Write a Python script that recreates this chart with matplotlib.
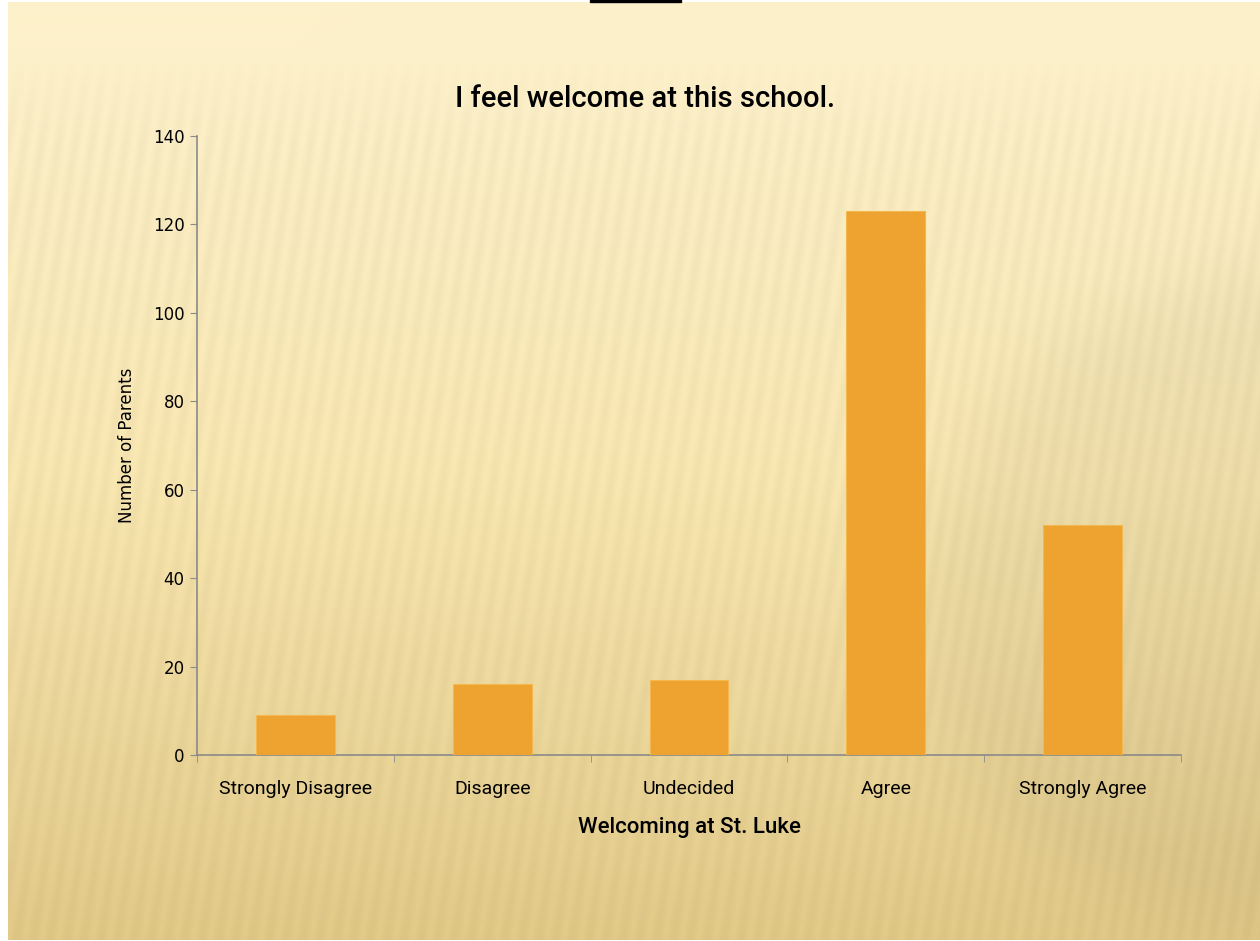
import matplotlib.pyplot as plt
import numpy as np

categories = ["Strongly Disagree", "Disagree", "Undecided", "Agree", "Strongly Agree"]
parents = [9, 16, 17, 123, 52]
yticks = [0, 20, 40, 60, 80, 100, 120, 140]

bar_color = "#EEA230"
text_font = ["Liberation Sans Narrow", "Roboto", "DejaVu Sans"]

fig = plt.figure(figsize=(12.6, 9.41), dpi=100)
fig.patch.set_facecolor("white")

# background: cream -> pale yellow -> tan gradient, faint stripes, soft darker swell on the right
bg = fig.add_axes([8 / 1260, 1 / 941, 1252 / 1260, 938 / 941])
h, w = 470, 626
yy, xx = np.mgrid[0:h, 0:w]
t = yy / (h - 1)
stops = np.array([0.0, 0.05, 0.5, 1.0])
cols = np.array([[253, 241, 203], [253, 241, 203], [250, 232, 178], [226, 202, 136]]) / 255
img = np.stack([np.interp(t, stops, cols[:, c]) for c in range(3)], axis=-1)
r = np.sqrt(((xx - w * 1.05) / (w * 0.32)) ** 2 + ((yy - h * 0.64) / (h * 0.36)) ** 2)
soft = 1 / (1 + np.exp(-(1 - r) / 0.06))
img = img * (1 - 0.04 * soft[..., None])
stripes = 0.5 + 0.5 * np.sin((xx * 0.95 + yy * 0.15) * 2 * np.pi / 8)
fade = np.clip((yy - h * 0.05) / (h * 0.1), 0, 1)
img = img * (1 - 0.03 * (stripes * fade)[..., None])
bg.imshow(np.clip(img, 0, 1), aspect="auto", interpolation="bilinear", extent=[0, 1, 0, 1])
bg.axis("off")

ax = fig.add_axes([197 / 1260, (941 - 755) / 941, (1181 - 197) / 1260, (755 - 136) / 941])
ax.patch.set_alpha(0)
x = np.arange(len(categories))
ax.bar(x, parents, width=0.4, color=bar_color, edgecolor="#F5B850", linewidth=0.8, zorder=3)

ax.set_xlim(-0.5, len(categories) - 0.5)
ax.set_ylim(0, 140)
ax.set_yticks(yticks)
ax.set_yticklabels([str(v) for v in yticks], fontsize=12, family="DejaVu Sans")
ax.set_xticks(x)
ax.set_xticklabels(categories, fontsize=14, family=text_font)
ax.set_xticks(np.arange(-0.5, len(categories)), minor=True)
ax.tick_params(axis="x", which="major", length=0, pad=18)
ax.tick_params(axis="x", which="minor", length=5, color="#8A8A8A", direction="out")
ax.tick_params(axis="y", length=5, color="#8A8A8A", pad=4)

for side in ["top", "right"]:
    ax.spines[side].set_visible(False)
for side in ["left", "bottom"]:
    ax.spines[side].set_color("#8A8A8A")
    ax.spines[side].set_linewidth(1.2)

ax.set_ylabel("Number of Parents", fontsize=12, family="DejaVu Sans", labelpad=12)
ax.set_xlabel("Welcoming at St. Luke", fontsize=16, family=text_font, fontweight="medium",
              labelpad=14)
fig.text(645 / 1260, 1 - 99 / 941, "I feel welcome at this school.", ha="center", va="center",
         fontsize=21, family=text_font, fontweight="medium")

# small dark bar at the top edge
fig.add_artist(plt.Rectangle((590 / 1260, 1 - 2 / 941), 91 / 1260, 2 / 941,
                             transform=fig.transFigure, color="black"))

fig.savefig("out.png", dpi=100, facecolor=fig.get_facecolor())
